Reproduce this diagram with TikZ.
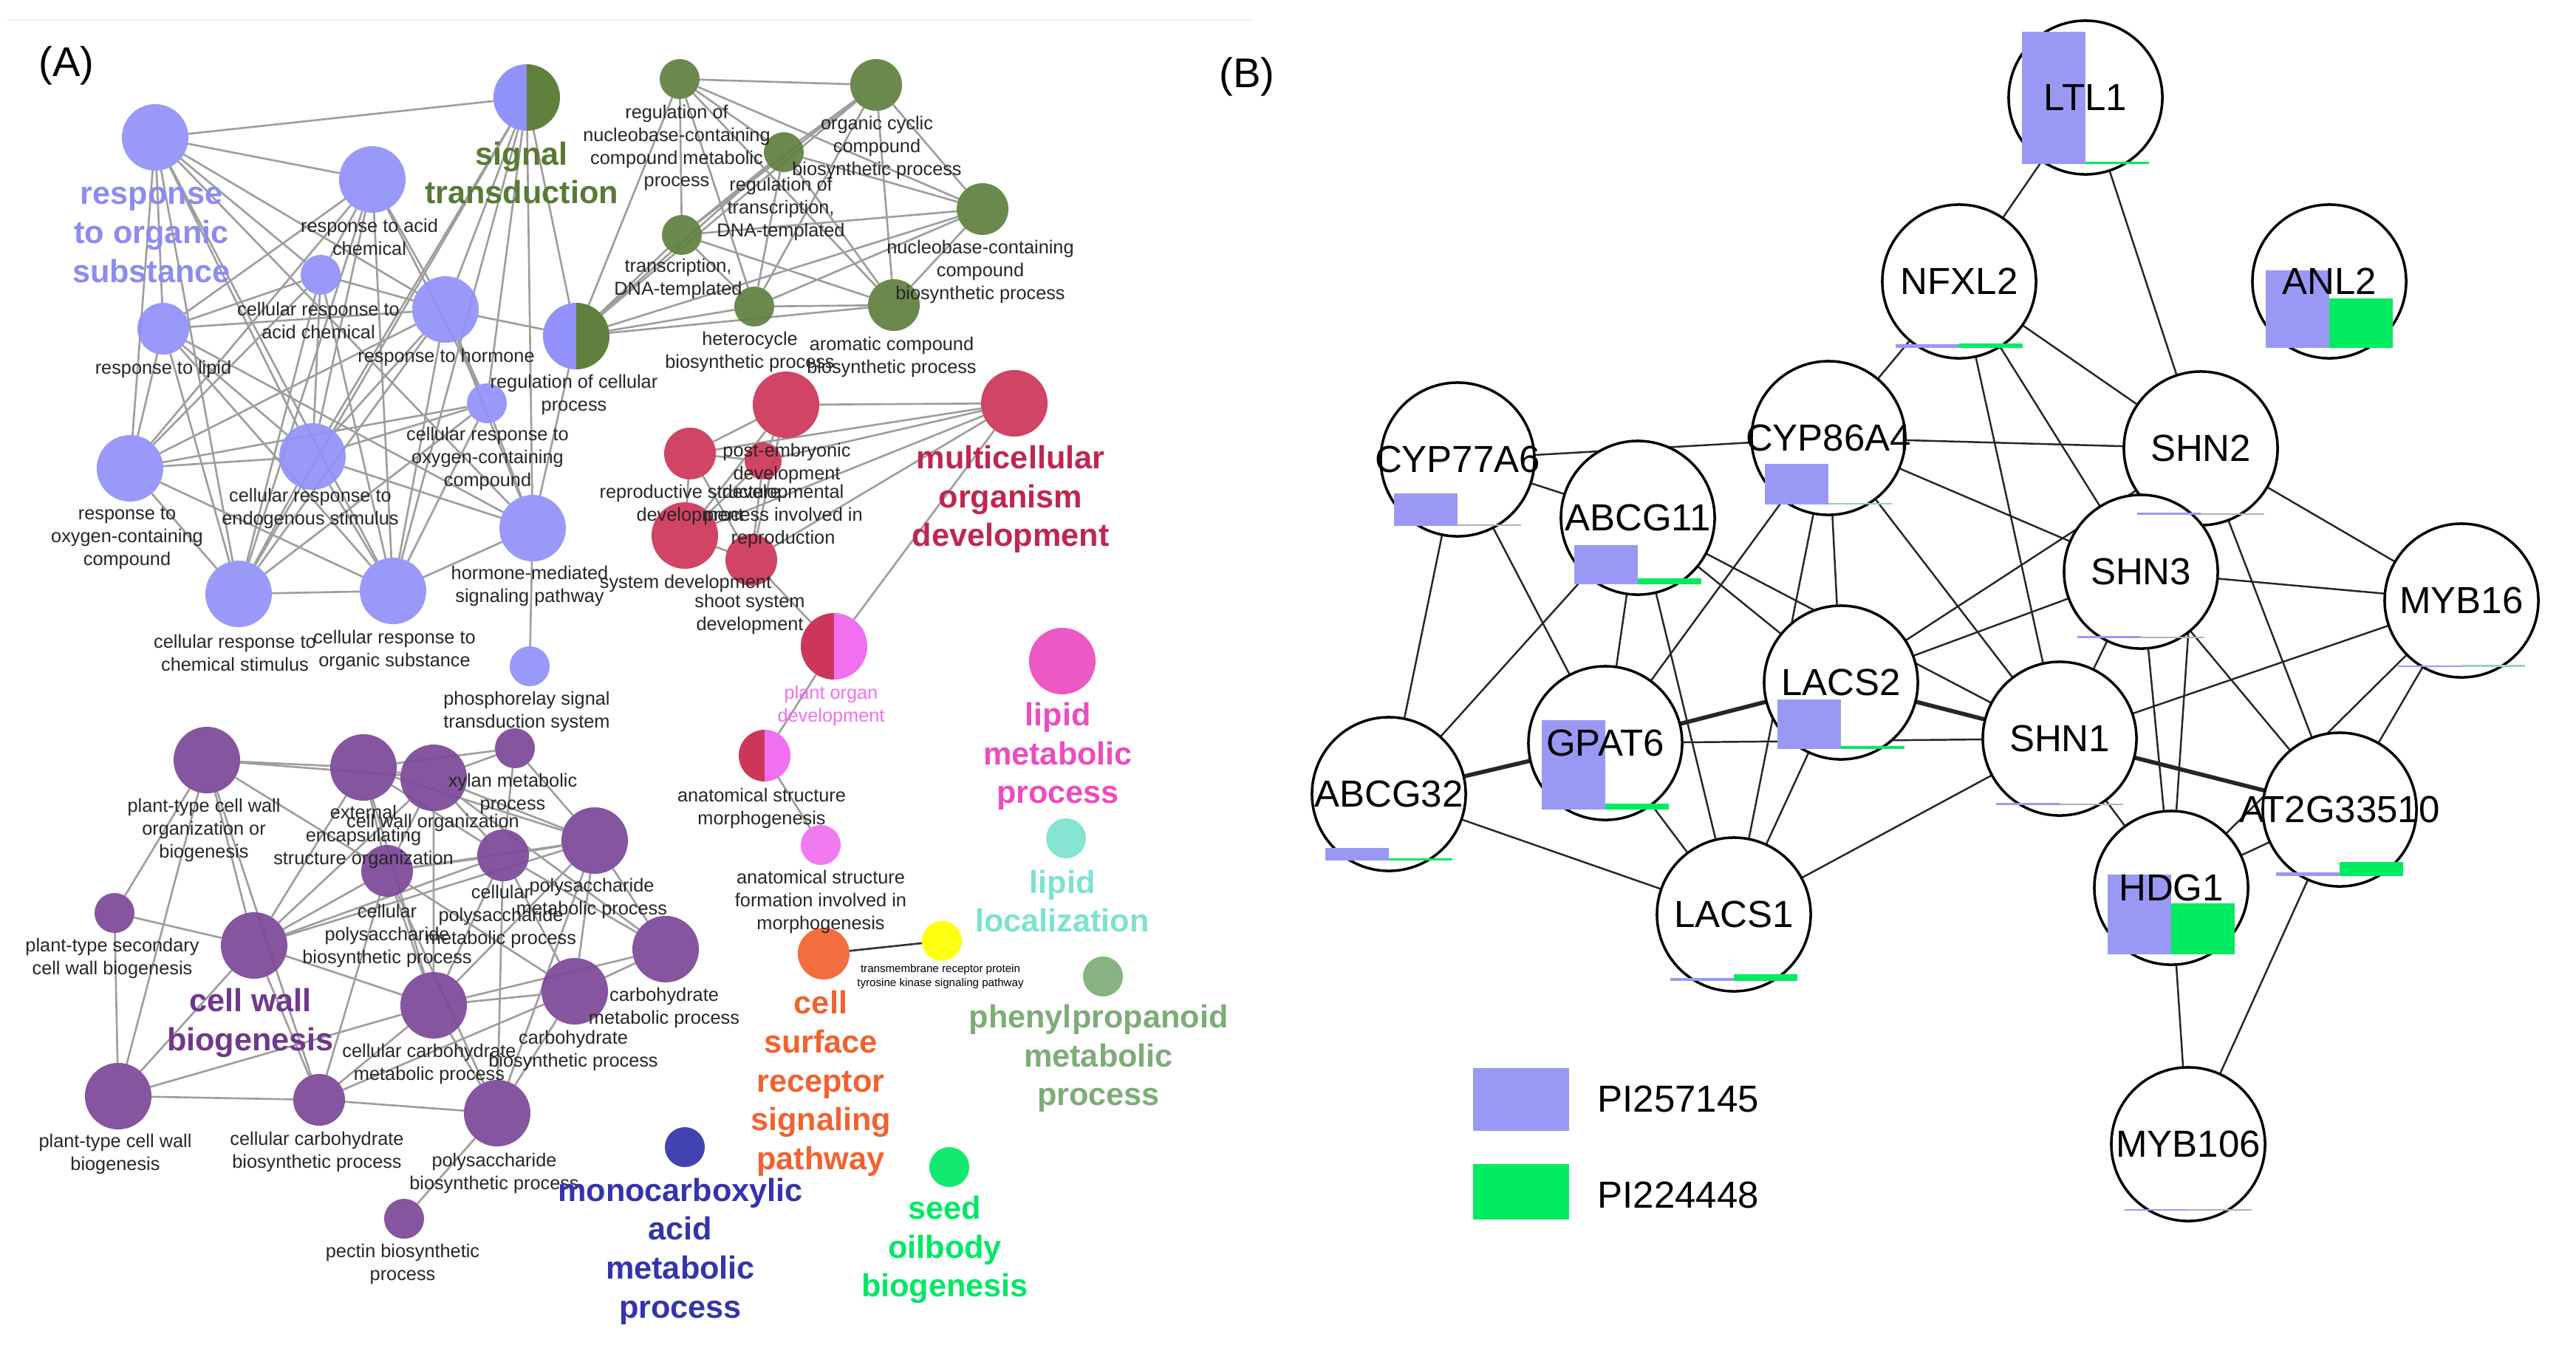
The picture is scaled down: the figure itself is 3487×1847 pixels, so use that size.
\documentclass[tikz,border=0pt]{standalone}
\usepackage{fontspec}
\setmainfont{Liberation Sans}
\pgfdeclarelayer{edges}
\pgfsetlayers{edges,main}

\definecolor{lavc}{RGB}{145,145,250}
\definecolor{lavt}{RGB}{140,140,240}
\definecolor{grnc}{RGB}{96,128,62}
\definecolor{grnt}{RGB}{88,122,52}
\definecolor{redc}{RGB}{204,54,88}
\definecolor{redt}{RGB}{192,38,78}
\definecolor{pnkc}{RGB}{240,112,240}
\definecolor{magc}{RGB}{236,76,192}
\definecolor{tealc}{RGB}{125,226,208}
\definecolor{purc}{RGB}{124,72,152}
\definecolor{purt}{RGB}{112,56,140}
\definecolor{bluec}{RGB}{52,52,172}
\definecolor{orgc}{RGB}{242,98,48}
\definecolor{yelc}{RGB}{255,255,0}
\definecolor{phc}{RGB}{126,172,120}
\definecolor{seedc}{RGB}{0,232,100}
\definecolor{barlav}{RGB}{153,153,245}
\definecolor{bargrn}{RGB}{0,235,95}

% bars under a gene: x, y, lavender height, green height, green colour
\newcommand{\genebars}[5]{%
  \fill[barlav] (#1-86,#2+90) rectangle (#1,#2+90-#3);
  \fill[#5] (#1,#2+90) rectangle (#1+86,#2+90-#4);}

\begin{document}
\begin{tikzpicture}[x=0.01cm,y=-0.01cm]
		\tikzstyle{term}=[circle,inner sep=0,outer sep=0,fill opacity=0.93]
		\tikzstyle{lg}=[minimum size=0.9cm]
		\tikzstyle{md}=[minimum size=0.7cm]
		\tikzstyle{sm}=[minimum size=0.54cm]
		\tikzstyle{edge}=[line width=0.75pt,black!38]
		\tikzstyle{lbl}=[inner sep=0,align=center,font=\fontsize{7.2}{8.8}\selectfont,text=black!85]
		\tikzstyle{head}=[inner sep=0,align=center,font=\fontsize{12.3}{15}\selectfont\bfseries]
		\tikzstyle{tiny}=[inner sep=0,align=center,font=\fontsize{4.3}{5.3}\selectfont]
		\tikzstyle{gene}=[circle,draw,line width=1pt,fill=white,minimum size=2.08cm,inner sep=0,outer sep=0]
		\tikzstyle{gname}=[inner sep=0,font=\fontsize{14.5}{17}\selectfont]
		\tikzstyle{link}=[line width=0.7pt,black!85]
		\tikzstyle{heavy}=[line width=1.6pt,black!85]
		\tikzstyle{key}=[inner sep=0,minimum width=1.3cm,minimum height=0.85cm]

		\useasboundingbox (0,0) rectangle (3487,1847);
		\draw[black!7,line width=0.6pt] (10,27) -- (1694,27);

		\node[inner sep=0,font=\fontsize{16}{19}\selectfont] (pa) at (90,89) {(A)};
		\node[inner sep=0,font=\fontsize{16}{19}\selectfont] (pb) at (1688,104) {(B)};

% (A) lavender cluster
		\node[term,lg,fill=lavc] (ros) at (210,186) {};
		\node[term,lg,fill=lavc] (rac) at (504,243) {};
		\node[term,sm,fill=lavc] (crac) at (434,372) {};
		\node[term,md,fill=lavc] (rlip) at (221,445) {};
		\node[term,lg,fill=lavc] (rhor) at (603,419) {};
		\node[term,sm,fill=lavc] (croc) at (659,546) {};
		\node[term,lg,fill=lavc] (roc) at (176,634) {};
		\node[term,lg,fill=lavc] (cres) at (423,618) {};
		\node[term,lg,fill=lavc] (crcs) at (323,804) {};
		\node[term,lg,fill=lavc] (cros) at (532,800) {};
		\node[term,lg,fill=lavc] (hmsp) at (721,715) {};
		\node[term,sm,fill=lavc] (phos) at (717,902) {};

		\node[term,lg] (sigt) at (713,132) {};
		\fill[lavc] (sigt.north) arc[start angle=90,end angle=270,radius=0.45cm] -- cycle;
		\fill[grnc] (sigt.south) arc[start angle=-90,end angle=90,radius=0.45cm] -- cycle;
		\node[term,lg] (rcp) at (780,455) {};
		\fill[lavc] (rcp.north) arc[start angle=90,end angle=270,radius=0.45cm] -- cycle;
		\fill[grnc] (rcp.south) arc[start angle=-90,end angle=90,radius=0.45cm] -- cycle;

% (A) green cluster
		\node[term,sm,fill=grnc] (rncm) at (920,107) {};
		\node[term,md,fill=grnc] (occb) at (1186,115) {};
		\node[term,sm,fill=grnc] (rtdt) at (1061,206) {};
		\node[term,sm,fill=grnc] (tdt) at (923,318) {};
		\node[term,md,fill=grnc] (ncbp) at (1330,283) {};
		\node[term,sm,fill=grnc] (hbp) at (1021,415) {};
		\node[term,md,fill=grnc] (acbp) at (1210,413) {};

% (A) red and pink cluster
		\node[term,lg,fill=redc] (ped) at (1064,548) {};
		\node[term,lg,fill=redc] (mod) at (1373,546) {};
		\node[term,md,fill=redc] (rsd) at (934,614) {};
		\node[term,minimum size=0.5cm,fill=redc] (dpir) at (1033,624) {};
		\node[term,lg,fill=redc] (sysd) at (927,725) {};
		\node[term,md,fill=redc] (ssd) at (1017,758) {};
		\node[term,lg] (pod) at (1129,875) {};
		\fill[redc] (pod.north) arc[start angle=90,end angle=270,radius=0.45cm] -- cycle;
		\fill[pnkc] (pod.south) arc[start angle=-90,end angle=90,radius=0.45cm] -- cycle;
		\node[term,md] (asm) at (1035,1023) {};
		\fill[redc] (asm.north) arc[start angle=90,end angle=270,radius=0.35cm] -- cycle;
		\fill[pnkc] (asm.south) arc[start angle=-90,end angle=90,radius=0.35cm] -- cycle;
		\node[term,sm,fill=pnkc] (asf) at (1111,1144) {};
		\node[term,lg,fill=magc] (lmp) at (1438,895) {};
		\node[term,sm,fill=tealc] (lloc) at (1443,1135) {};

% (A) purple cluster
		\node[term,lg,fill=purc] (pcwo) at (280,1029) {};
		\node[term,lg,fill=purc] (eeso) at (492,1039) {};
		\node[term,lg,fill=purc] (cwo) at (587,1053) {};
		\node[term,sm,fill=purc] (xmp) at (697,1013) {};
		\node[term,md,fill=purc] (cpbp) at (524,1179) {};
		\node[term,md,fill=purc] (cpmp) at (681,1158) {};
		\node[term,lg,fill=purc] (pmp) at (805,1138) {};
		\node[term,sm,fill=purc] (pscw) at (155,1236) {};
		\node[term,lg,fill=purc] (cwb) at (344,1280) {};
		\node[term,lg,fill=purc] (ccmp) at (587,1361) {};
		\node[term,lg,fill=purc] (cbp) at (778,1342) {};
		\node[term,lg,fill=purc] (cmp) at (901,1285) {};
		\node[term,lg,fill=purc] (ptcw) at (160,1484) {};
		\node[term,md,fill=purc] (ccbp) at (432,1489) {};
		\node[term,lg,fill=purc] (psbp) at (673,1507) {};
		\node[term,sm,fill=purc] (pect) at (547,1650) {};

% (A) single terms
		\node[term,sm,fill=bluec] (mono) at (927,1553) {};
		\node[term,md,fill=orgc] (csr) at (1115,1291) {};
		\node[term,sm,fill=yelc] (trptk) at (1275,1274) {};
		\node[term,sm,fill=phc] (phen) at (1493,1322) {};
		\node[term,sm,fill=seedc] (seed) at (1285,1580) {};

% (A) labels
		\node[head,text=lavt] (l-ros) at (205,318) {response\\to organic\\substance};
		\node[lbl] (l-rac) at (500,321) {response to acid\\chemical};
		\node[lbl] (l-crac) at (431,434) {cellular response to\\acid chemical};
		\node[lbl] (l-rlip) at (221,500) {response to lipid};
		\node[lbl] (l-rhor) at (604,484) {response to hormone};
		\node[lbl] (l-croc) at (660,621) {cellular response to\\oxygen-containing\\compound};
		\node[lbl] (l-roc) at (172,729) {response to\\oxygen-containing\\compound};
		\node[lbl] (l-cres) at (420,688) {cellular response to\\endogenous stimulus};
		\node[lbl] (l-crcs) at (318,884) {cellular response to\\chemical stimulus};
		\node[lbl] (l-cros) at (534,880) {cellular response to\\organic substance};
		\node[lbl] (l-hmsp) at (717,793) {hormone-mediated\\signaling pathway};
		\node[lbl] (l-phos) at (713,963) {phosphorelay signal\\transduction system};
		\node[head,text=grnt] (l-sigt) at (706,234) {signal\\transduction};
		\node[lbl] (l-rcp) at (777,534) {regulation of cellular\\process};
		\node[lbl] (l-rncm) at (916,200) {regulation of\\nucleobase-containing\\compound metabolic\\process};
		\node[lbl] (l-occb) at (1187,200) {organic cyclic\\compound\\biosynthetic process};
		\node[lbl] (l-rtdt) at (1057,283) {regulation of\\transcription,\\DNA-templated};
		\node[lbl] (l-tdt) at (918,377) {transcription,\\DNA-templated};
		\node[lbl] (l-ncbp) at (1327,368) {nucleobase-containing\\compound\\biosynthetic process};
		\node[lbl] (l-hbp) at (1015,476) {heterocycle\\biosynthetic process};
		\node[lbl] (l-acbp) at (1207,483) {aromatic compound\\biosynthetic process};
		\node[lbl] (l-ped) at (1065,627) {post-embryonic\\development};
		\node[head,text=redt] (l-mod) at (1368,676) {multicellular\\organism\\development};
		\node[lbl] (l-rsd) at (934,683) {reproductive structure\\development};
		\node[lbl] (l-dpir) at (1060,699) {developmental\\process involved in\\reproduction};
		\node[lbl] (l-sysd) at (928,790) {system development};
		\node[lbl] (l-ssd) at (1015,831) {shoot system\\development};
		\node[lbl,text=pnkc] (l-pod) at (1125,955) {plant organ\\development};
		\node[lbl] (l-asm) at (1031,1094) {anatomical structure\\morphogenesis};
		\node[lbl] (l-asf) at (1111,1221) {anatomical structure\\formation involved in\\morphogenesis};
		\node[head,text=magc] (l-lmp) at (1432,1024) {lipid\\metabolic\\process};
		\node[head,text=tealc] (l-lloc) at (1438,1220) {lipid\\localization};
		\node[lbl] (l-pcwo) at (276,1124) {plant-type cell wall\\organization or\\biogenesis};
		\node[lbl] (l-eeso) at (492,1133) {external\\encapsulating\\structure organization};
		\node[lbl] (l-cwo) at (586,1114) {cell wall organization};
		\node[lbl] (l-xmp) at (694,1074) {xylan metabolic\\process};
		\node[lbl] (l-cpbp) at (524,1267) {cellular\\polysaccharide\\biosynthetic process};
		\node[lbl] (l-cpmp) at (678,1241) {cellular\\polysaccharide\\metabolic process};
		\node[lbl] (l-pmp) at (801,1216) {polysaccharide\\metabolic process};
		\node[lbl] (l-pscw) at (152,1297) {plant-type secondary\\cell wall biogenesis};
		\node[head,text=purt] (l-cwb) at (339,1385) {cell wall\\biogenesis};
		\node[lbl] (l-ccmp) at (581,1440) {cellular carbohydrate\\metabolic process};
		\node[lbl] (l-cbp) at (776,1422) {carbohydrate\\biosynthetic process};
		\node[lbl] (l-cmp) at (899,1364) {carbohydrate\\metabolic process};
		\node[lbl] (l-ptcw) at (156,1562) {plant-type cell wall\\biogenesis};
		\node[lbl] (l-ccbp) at (429,1559) {cellular carbohydrate\\biosynthetic process};
		\node[lbl] (l-psbp) at (669,1588) {polysaccharide\\biosynthetic process};
		\node[lbl] (l-pect) at (545,1711) {pectin biosynthetic\\process};
		\node[head,text=bluec] (l-mono) at (921,1694) {monocarboxylic\\acid\\metabolic\\process};
		\node[head,text=orgc] (l-csr) at (1111,1467) {cell\\surface\\receptor\\signaling\\pathway};
		\node[tiny] (l-trptk) at (1273,1322) {transmembrane receptor protein\\tyrosine kinase signaling pathway};
		\node[head,text=phc] (l-phen) at (1487,1433) {phenylpropanoid\\metabolic\\process};
		\node[head,text=seedc] (l-seed) at (1279,1692) {seed\\oilbody\\biogenesis};

% (B) genes
		\node[gene] (ltl) at (2823,132) {};
		\node[gene] (nfx) at (2652,381) {};
		\node[gene] (anl) at (3153,381) {};
		\node[gene] (c77) at (1973,622) {};
		\node[gene] (a11) at (2217,701) {};
		\node[gene] (c86) at (2475,593) {};
		\node[gene] (sh2) at (2979,607) {};
		\node[gene] (sh3) at (2898,774) {};
		\node[gene] (m16) at (3332,813) {};
		\node[gene] (a32) at (1880,1075) {};
		\node[gene] (gp6) at (2173,1006) {};
		\node[gene] (la2) at (2492,924) {};
		\node[gene] (sh1) at (2788,1000) {};
		\node[gene] (la1) at (2347,1238) {};
		\node[gene] (hdg) at (2939,1202) {};
		\node[gene] (at2) at (3167,1096) {};
		\node[gene] (m06) at (2962,1549) {};

		\genebars{2823}{132}{179}{3}{bargrn}
		\genebars{2652}{381}{5}{6}{bargrn}
		\genebars{3153}{381}{105}{67}{bargrn}
		\genebars{1973}{622}{44}{2}{black!30}
		\genebars{2217}{701}{53}{8}{bargrn}
		\genebars{2475}{593}{55}{2}{bargrn!60!black!40}
		\genebars{2979}{607}{3}{2}{black!30}
		\genebars{2898}{774}{3}{2}{black!30}
		\genebars{3332}{813}{2}{3}{bargrn!60!black!40}
		\genebars{1880}{1075}{17}{3}{bargrn}
		\genebars{2173}{1006}{121}{8}{bargrn}
		\genebars{2492}{924}{67}{4}{bargrn}
		\genebars{2788}{1000}{3}{2}{black!30}
		\genebars{2347}{1238}{4}{9}{bargrn}
		\genebars{2939}{1202}{108}{69}{bargrn}
		\genebars{3167}{1096}{5}{19}{bargrn}
		\genebars{2962}{1549}{2}{2}{black!30}

		\node[gname] (t-ltl) at (ltl) {LTL1};
		\node[gname] (t-nfx) at (nfx) {NFXL2};
		\node[gname] (t-anl) at (anl) {ANL2};
		\node[gname] (t-c77) at (c77) {CYP77A6};
		\node[gname] (t-a11) at (a11) {ABCG11};
		\node[gname] (t-c86) at (c86) {CYP86A4};
		\node[gname] (t-sh2) at (sh2) {SHN2};
		\node[gname] (t-sh3) at (sh3) {SHN3};
		\node[gname] (t-m16) at (m16) {MYB16};
		\node[gname] (t-a32) at (a32) {ABCG32};
		\node[gname] (t-gp6) at (gp6) {GPAT6};
		\node[gname] (t-la2) at (la2) {LACS2};
		\node[gname] (t-sh1) at (sh1) {SHN1};
		\node[gname] (t-la1) at (la1) {LACS1};
		\node[gname] (t-hdg) at (hdg) {HDG1};
		\node[gname] (t-at2) at (at2) {AT2G33510};
		\node[gname] (t-m06) at (m06) {MYB106};

% (B) legend
		\node[key,fill=barlav] (klav) at (2059,1488) {};
		\node[gname,anchor=west] (t-klav) at (2162,1488) {PI257145};
		\node[key,fill=bargrn,minimum height=0.75cm] (kgrn) at (2059,1613) {};
		\node[gname,anchor=west] (t-kgrn) at (2162,1618) {PI224448};

		\begin{pgfonlayer}{edges}
		% lavender
		\draw[edge] (ros) -- (sigt) (ros) -- (rac) (ros) -- (rlip) (ros) -- (roc) (ros) -- (crcs) (ros) -- (cres) (ros) -- (rhor) (ros) -- (cros) (ros) -- (crac) (ros) -- (hmsp);
		\draw[edge] (rac) -- (rlip) (rac) -- (roc) (rac) -- (crcs) (rac) -- (cres) (rac) -- (rhor) (rac) -- (cros) (rac) -- (crac) (rac) -- (croc);
		\draw[edge] (crac) -- (rlip) (crac) -- (cres) (crac) -- (rhor) (crac) -- (crcs) (crac) -- (cros) (crac) -- (roc);
		\draw[edge] (rlip) -- (roc) (rlip) -- (cres) (rlip) -- (crcs) (rlip) -- (rhor) (rlip) -- (cros) (rlip) -- (hmsp);
		\draw[edge] (rhor) -- (sigt) (rhor) -- (rcp) (rhor) -- (cres) (rhor) -- (crcs) (rhor) -- (cros) (rhor) -- (hmsp) (rhor) -- (croc) (rhor) -- (roc);
		\draw[edge] (croc) -- (sigt) (croc) -- (cres) (croc) -- (crcs) (croc) -- (cros) (croc) -- (roc) (croc) -- (hmsp);
		\draw[edge] (roc) -- (cres) (roc) -- (crcs) (roc) -- (cros);
		\draw[edge] (cres) -- (crcs) (cres) -- (cros) (cres) -- (hmsp) (cres) -- (sigt);
		\draw[edge] (crcs) -- (cros) (crcs) -- (sigt) (cros) -- (hmsp) (cros) -- (sigt);
		\draw[edge] (hmsp) -- (sigt) (hmsp) -- (phos) (hmsp) -- (rcp) (sigt) -- (rcp);
		\draw[edge] (rcp) -- (rncm) (rcp) -- (tdt) (rcp) -- (hbp) (rcp) -- (rtdt) (rcp) -- (acbp) (rcp) -- (ncbp) (rcp) -- (occb);
		% green
		\draw[edge] (rncm) -- (occb) (rncm) -- (rtdt) (rncm) -- (tdt) (rncm) -- (ncbp) (rncm) -- (hbp) (rncm) -- (acbp);
		\draw[edge] (occb) -- (rtdt) (occb) -- (tdt) (occb) -- (ncbp) (occb) -- (hbp) (occb) -- (acbp);
		\draw[edge] (rtdt) -- (tdt) (rtdt) -- (ncbp) (rtdt) -- (hbp) (rtdt) -- (acbp);
		\draw[edge] (tdt) -- (hbp) (tdt) -- (ncbp) (tdt) -- (acbp) (hbp) -- (acbp) (hbp) -- (ncbp) (ncbp) -- (acbp);
		% red
		\draw[edge] (mod) -- (ped) (mod) -- (rsd) (mod) -- (dpir) (mod) -- (sysd) (mod) -- (ssd) (mod) -- (pod);
		\draw[edge] (ped) -- (rsd) (ped) -- (dpir) (ped) -- (sysd) (ped) -- (ssd);
		\draw[edge] (rsd) -- (dpir) (rsd) -- (sysd) (rsd) -- (ssd) (sysd) -- (ssd) (sysd) -- (dpir) (dpir) -- (ssd);
		\draw[edge] (ssd) -- (pod) (pod) -- (asm) (asm) -- (asf);
		\draw[edge,black!80] (csr) -- (trptk);
		% purple
		\draw[edge] (pcwo) -- (eeso) (pcwo) -- (cwo) (pcwo) -- (cwb) (pcwo) -- (ptcw) (pcwo) -- (pscw) (pcwo) -- (ccbp) (pcwo) -- (cpbp);
		\draw[edge] (eeso) -- (cwo) (eeso) -- (cpbp) (eeso) -- (cwb) (eeso) -- (ccmp) (eeso) -- (cpmp) (eeso) -- (pmp) (eeso) -- (xmp);
		\draw[edge] (cwo) -- (cpbp) (cwo) -- (cwb) (cwo) -- (cpmp) (cwo) -- (pmp) (cwo) -- (ccmp) (cwo) -- (cmp) (cwo) -- (xmp);
		\draw[edge] (xmp) -- (pmp) (xmp) -- (cpmp);
		\draw[edge] (cpbp) -- (cpmp) (cpbp) -- (pmp) (cpbp) -- (cwb) (cpbp) -- (ccmp) (cpbp) -- (cbp) (cpbp) -- (ccbp) (cpbp) -- (psbp);
		\draw[edge] (cpmp) -- (pmp) (cpmp) -- (ccmp) (cpmp) -- (cbp) (cpmp) -- (psbp) (cpmp) -- (cmp);
		\draw[edge] (pmp) -- (cbp) (pmp) -- (cmp) (pmp) -- (psbp) (pmp) -- (ccmp);
		\draw[edge] (cwb) -- (pscw) (cwb) -- (ptcw) (cwb) -- (ccbp) (cwb) -- (ccmp) (cwb) -- (cpmp) (cwb) -- (pmp);
		\draw[edge] (pscw) -- (ptcw) (ptcw) -- (ccbp) (ptcw) -- (ccmp);
		\draw[edge] (ccbp) -- (ccmp) (ccbp) -- (cbp) (ccbp) -- (psbp);
		\draw[edge] (ccmp) -- (cbp) (ccmp) -- (psbp) (ccmp) -- (cmp);
		\draw[edge] (cbp) -- (cmp) (cbp) -- (psbp) (psbp) -- (pect);
		% (B)
		\draw[link] (ltl) -- (nfx) (ltl) -- (sh2);
		\draw[link] (nfx) -- (c86) (nfx) -- (sh2) (nfx) -- (sh1) (nfx) -- (sh3);
		\draw[link] (c77) -- (a11) (c77) -- (c86) (c77) -- (a32) (c77) -- (gp6);
		\draw[link] (c86) -- (sh2) (c86) -- (sh3) (c86) -- (gp6) (c86) -- (la1) (c86) -- (la2) (c86) -- (sh1);
		\draw[link] (a11) -- (a32) (a11) -- (gp6) (a11) -- (la1) (a11) -- (la2) (a11) -- (sh1);
		\draw[link] (gp6) -- (sh1) (gp6) -- (la1);
		\draw[heavy] (gp6) -- (a32) (gp6) -- (la2) (la2) -- (sh1) (sh1) -- (at2);
		\draw[link] (la2) -- (la1) (la2) -- (sh2) (la2) -- (sh3);
		\draw[link] (la1) -- (a32) (la1) -- (sh1);
		\draw[link] (sh1) -- (hdg) (sh1) -- (m16) (sh1) -- (sh3);
		\draw[link] (sh2) -- (m16) (sh2) -- (at2) (sh2) -- (hdg);
		\draw[link] (sh3) -- (m16) (sh3) -- (hdg) (sh3) -- (at2);
		\draw[link] (m16) -- (at2) (m16) -- (hdg);
		\draw[link] (hdg) -- (at2) (hdg) -- (m06) (at2) -- (m06);
		\end{pgfonlayer}
	\end{tikzpicture}
\end{document}
